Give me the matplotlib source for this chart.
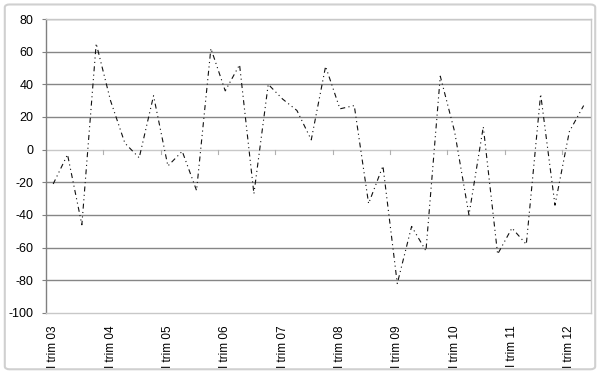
import matplotlib
matplotlib.use("Agg")
import matplotlib.pyplot as plt
from matplotlib.patches import FancyBboxPatch

plt.rcParams['font.family'] = ['Liberation Sans', 'DejaVu Sans']
plt.rcParams['axes.unicode_minus'] = False

years = ["03", "04", "05", "06", "07", "08", "09", "10", "11", "12"]
tick_labels = ["I trim " + y for y in years]
values = [-21, -3, -46, 65, 30, 4, -5, 33, -10, -1,
          -25, 62, 36, 52, -27, 40, 31, 24, 6, 51,
          25, 27, -33, -10, -82, -47, -62, 45, 11, -40,
          14, -64, -48, -58, 34, -34, 11, 27]

fig = plt.figure(figsize=(6.0, 3.73), dpi=100)
fig.patch.set_facecolor('white')
border = FancyBboxPatch((0.008, 0.01), 0.984, 0.978,
                        boxstyle="round,pad=0,rounding_size=0.008",
                        transform=fig.transFigure, facecolor='none',
                        edgecolor='#d0d0d0', linewidth=1.5, zorder=10)
fig.patches.append(border)

ax = fig.add_axes([0.0767, 0.161, 0.908, 0.788])
ax.set_facecolor('white')
n = len(values)
x = list(range(n))
ax.plot(x, values, color='#111111', linewidth=0.8,
        linestyle=(0, (4.5, 3, 1, 3, 1, 3)), zorder=3)

ax.set_xlim(-0.5, n - 0.5)
ax.set_ylim(-100, 80)
ax.set_yticks(range(-100, 81, 20))
for v in range(-80, 81, 20):
    if v != 0:
        ax.axhline(v, color='#868686', linewidth=1.0, zorder=1)
ax.axhline(0, color='#c8c8c8', linewidth=1.0, zorder=1)
# x-axis tick marks at category boundaries on zero line
for b in range(4, n, 4):
    ax.plot([b - 0.5, b - 0.5], [0, -2.5], color='#b0b0b0', linewidth=0.8, zorder=2)

ax.set_xticks(range(0, n, 4))
ax.set_xticklabels(tick_labels, rotation=90, fontsize=8.5)
ax.tick_params(axis='x', length=0, pad=9)
ax.tick_params(axis='y', length=3, width=0.8, color='#808080', pad=6, labelsize=9)

for s in ['top', 'right', 'bottom']:
    ax.spines[s].set_color('#c8c8c8')
    ax.spines[s].set_linewidth(1.0)
ax.spines['left'].set_color('#808080')
ax.spines['left'].set_linewidth(1.0)

fig.savefig('out.png', dpi=100, facecolor='white')
